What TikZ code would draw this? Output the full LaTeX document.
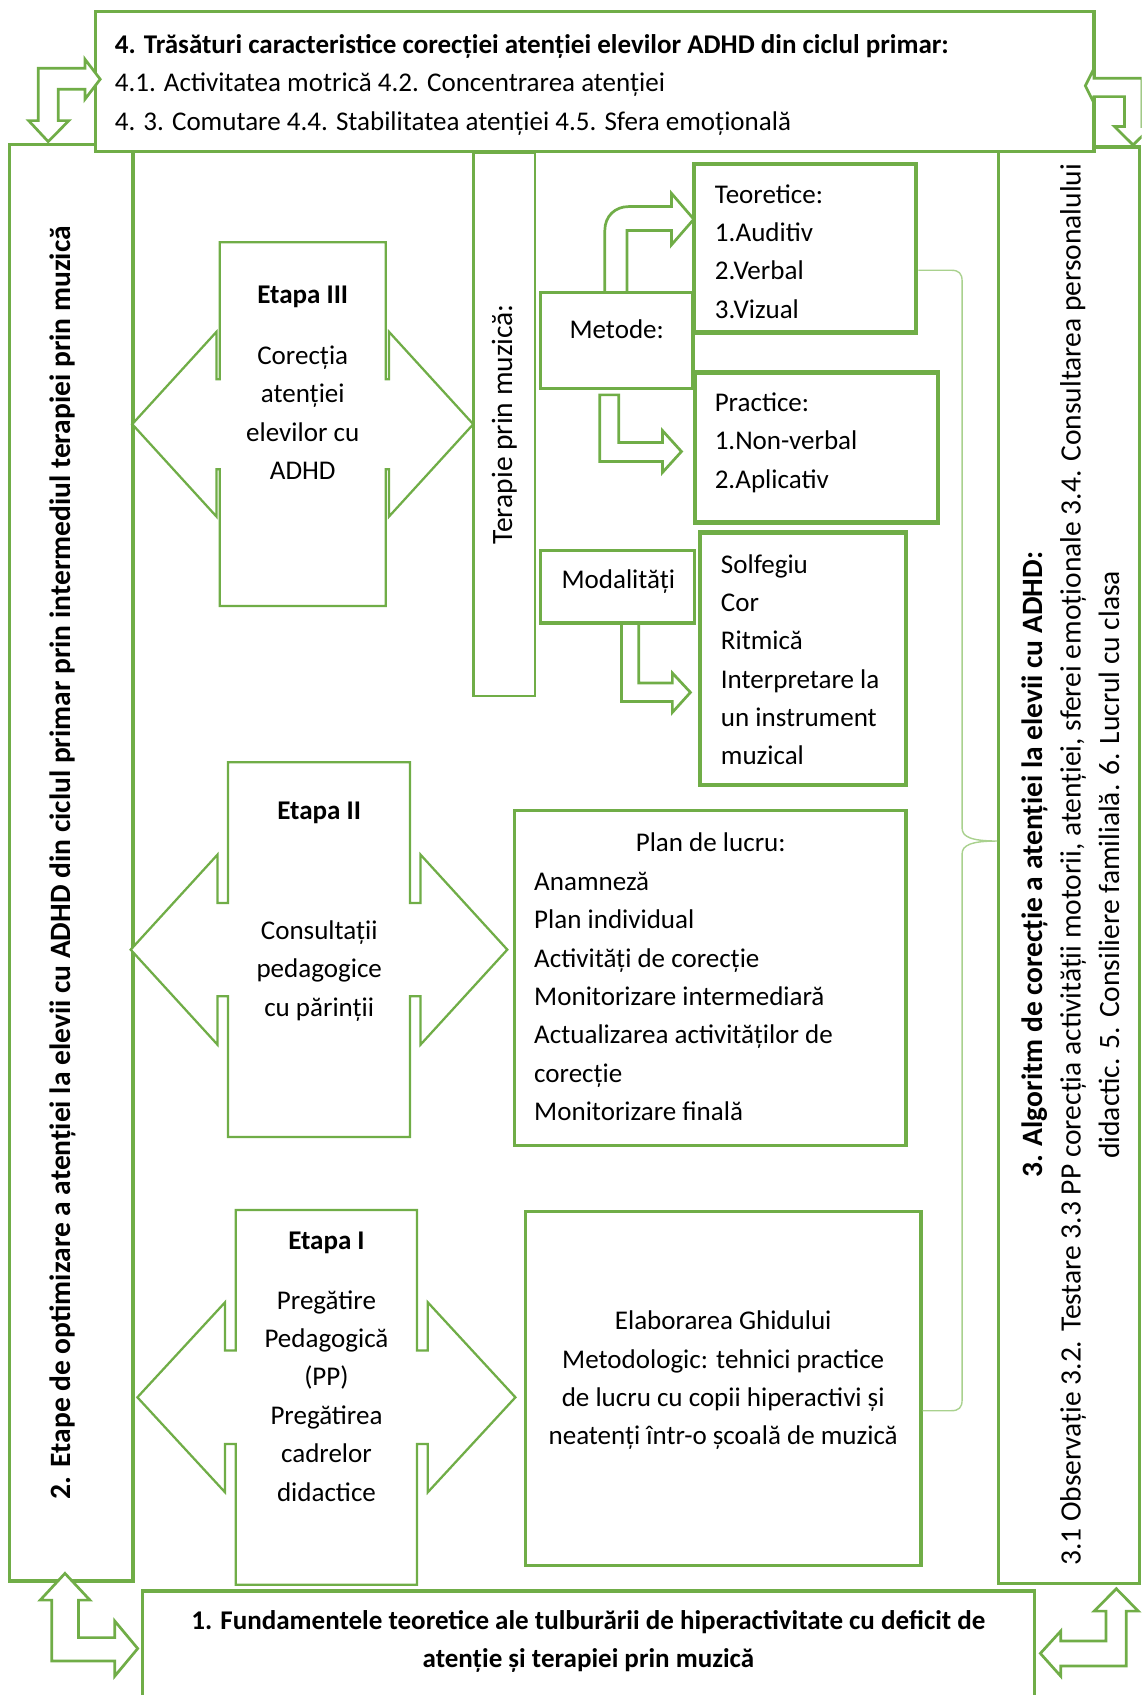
\documentclass[tikz,border=0pt]{standalone}
\usepackage{fontspec}
\setmainfont{Carlito}
\usetikzlibrary{calc}

\definecolor{algreen}{RGB}{112,173,71}
\definecolor{lightgreen}{RGB}{169,209,142}

\newcommand{\bodyfont}{\fontsize{25}{35.5}\selectfont}
\newcommand{\rotfont}{\fontsize{27.3}{35.5}\selectfont}

% outline of a stage box with a block arrow to each side
\newcommand{\etapaoutline}[5]{%
  \draw[etapaline] (#1.north west) -- (#1.north east)
    -- ($(#1.east)+(0,-#4)$) -- ++(#2,0) -- ($(#1.east)+(#2,-#5)$)
    -- ($(#1.east)+(#3,0)$) -- ($(#1.east)+(#2,#5)$) -- ($(#1.east)+(#2,#4)$)
    -- ($(#1.east)+(0,#4)$) -- (#1.south east) -- (#1.south west)
    -- ($(#1.west)+(0,#4)$) -- ++(-#2,0) -- ($(#1.west)+(-#2,#5)$)
    -- ($(#1.west)+(-#3,0)$) -- ($(#1.west)+(-#2,-#5)$) -- ($(#1.west)+(-#2,-#4)$)
    -- ($(#1.west)+(0,-#4)$) -- cycle;}

\begin{document}
\begin{tikzpicture}[x=1pt, y=-1pt]
    \tikzstyle{every node}=[font=\bodyfont, inner sep=0pt]
    \tikzstyle{box}=[rectangle, draw=algreen, line width=3pt, fill=white]
    \tikzstyle{thick box}=[box, line width=3.8pt]
    \tikzstyle{thin box}=[box, line width=2.2pt]
    \tikzstyle{etapaline}=[draw=algreen, line width=2.1pt, fill=white]
    \tikzstyle{block arrow}=[draw=algreen, line width=2.5pt, fill=white]
    \tikzstyle{brace line}=[draw=lightgreen, line width=1.3pt]
    \tikzstyle{lines}=[align=left, execute at begin node=\strut, execute at end node=\strut]
    \tikzstyle{clines}=[lines, align=center]
    \tikzstyle{bold}=[font=\bodyfont\bfseries]

    \useasboundingbox (0,0) rectangle (1056,1568);
    \clip (0,0) rectangle (1056,1568);

    % outer frame
    \node[box, minimum width=114, minimum height=1328.5] (etape) at (66,798.25) {};
    \node[box, minimum width=130, minimum height=1329] (algo) at (989,800.5) {};
    \node[box, minimum width=923.5, minimum height=129.5] (trasaturi) at (550.25,75.5) {};
    \node[box, anchor=north, minimum width=825.3, minimum height=130] (fundamente) at (544.35,1470.3) {};

    % bent arrows in the corners
    \draw[block arrow] (92.7,73.3) -- (78.6,91.8) -- (78.6,82.6) -- (53.8,82.6) -- (53.8,111.6) -- (63.7,111.6) -- (44.6,131) -- (26.5,111.6) -- (35.4,111.6) -- (35.4,63.2) -- (78.6,63.2) -- (78.6,54.8) -- cycle;
    \draw[block arrow] (1004,79.4) -- (1012.1,63.2) -- (1012.1,72.4) -- (1056.5,72.4) -- (1056.5,117.1) -- (1065.4,117.1) -- (1048.2,134.1) -- (1031,117.1) -- (1040.3,117.1) -- (1040.3,89.4) -- (1012.1,89.4) -- (1012.1,95.5) -- cycle;
    \draw[block arrow] (60.1,1455.5) -- (83.2,1480.2) -- (72.6,1480.2) -- (72.6,1514.9) -- (106.2,1514.9) -- (106.2,1499.6) -- (127.4,1525) -- (106.2,1550.5) -- (106.2,1536.6) -- (47.8,1536.6) -- (47.8,1480.2) -- (37.2,1480.2) -- cycle;
    \draw[block arrow] (1032.7,1469.7) -- (1053,1490.4) -- (1041.9,1490.4) -- (1041.9,1541.2) -- (981.2,1541.2) -- (981.2,1550.5) -- (962.4,1529.5) -- (981.2,1508.9) -- (981.2,1518.1) -- (1023.1,1518.1) -- (1023.1,1490.4) -- (1012.1,1490.4) -- cycle;

    % arrows out of Metode and Modalitati
    \draw[block arrow] (559.5,270.6) -- (559.5,213.1) .. controls (559.5,200) and (569,191.1) .. (581.5,191.1) -- (621.1,191.1) -- (621.1,178.8) -- (641.8,202.8) -- (621.1,226.6) -- (621.1,213.3) -- (580.1,213.3) -- (580.1,270.6) -- cycle;
    \draw[block arrow] (554.8,365.3) -- (572.4,365.3) -- (572.4,409.4) -- (612.8,409.4) -- (612.8,398.3) -- (630.4,417.7) -- (612.8,437.1) -- (612.8,426.9) -- (554.8,426.9) -- cycle;
    \draw[block arrow] (574.9,570.3) -- (590.9,570.3) -- (590.9,631.9) -- (622,631.9) -- (622,622.6) -- (638.7,640.5) -- (622,659) -- (622,648.9) -- (574.9,648.9) -- cycle;

    % inner boxes
    \node[thin box, rotate=90, minimum width=503, minimum height=57, font=\rotfont] (terapie) at (466.5,392.5) {Terapie prin muzică:};
    \node[box, minimum width=141.1, minimum height=88.5] (metode) at (570.55,314.85) {};
    \node[thick box, minimum width=205.9, minimum height=155.9] (teoretice) at (744.75,229.65) {};
    \node[thick box, minimum width=225.3, minimum height=138.7] (practice) at (755.35,413.95) {};
    \node[box, minimum width=142.7, minimum height=67.2] (modalitati) at (571.35,542.8) {};
    \node[thick box, minimum width=190.5, minimum height=233.3] (solfegiu) at (743.15,609.25) {};
    \node[box, minimum width=362.4, minimum height=310.4] (plan) at (656.8,904.8) {};
    \node[box, minimum width=365.6, minimum height=327.6] (ghid) at (669.1,1284.3) {};

    % the three stages
    \node[minimum width=153.1, minimum height=336] (e3) at (280.05,392.4) {};
    \node[minimum width=168, minimum height=346.4] (e2) at (295.1,878.5) {};
    \node[minimum width=167.3, minimum height=346.2] (e1) at (301.95,1292.6) {};
    \etapaoutline{e3}{3}{81}{41.6}{85.5}
    \etapaoutline{e2}{9.7}{90}{43.1}{87.9}
    \etapaoutline{e1}{9.9}{91}{43.2}{87.9}

    % brace towards the algorithm
    \draw[brace line] ($(teoretice.east)+(0,20.35)$) -- (880,250) .. controls (887,250) and (890,253) .. (890,260)
      -- (890,766) .. controls (890,774) and (898,778) .. ($(algo.west)+(0,-22.5)$)
      .. controls (898,778) and (890,782) .. (890,790) -- (890,1295)
      .. controls (890,1302) and (887,1305) .. (880,1305) -- ($(ghid.east)+(0,20.7)$);

    % texts
    \node[lines, anchor=north west] (trasaturitxt) at (106,31.65) {\textbf{4. Trăsături caracteristice corecției atenției elevilor ADHD din ciclul primar:}\\4.1. Activitatea motrică 4.2. Concentrarea atenției\\4. 3. Comutare 4.4. Stabilitatea atenției 4.5. Sfera emoțională};
    \node[rotate=90, font=\rotfont\bfseries] (etapetxt) at (58,798) {2. Etape de optimizare a atenției la elevii cu ADHD din ciclul primar prin intermediul terapiei prin muzică};
    \node[clines, rotate=90, font=\rotfont] (algotxt) at (995.5,800) {\textbf{3. Algoritm de corecție a atenției la elevii cu ADHD:}\\3.1 Observație 3.2. Testare 3.3 PP corecția activității motorii, atenției, sferei emoționale 3.4. Consultarea personalului\\didactic. 5. Consiliere familială. 6. Lucrul cu clasa};
    \node[clines, bold, anchor=north] (fundamentetxt) at (544.35,1489.65) {1. Fundamentele teoretice ale tulburării de hiperactivitate cu deficit de\\atenție și terapiei prin muzică};

    \node[clines, anchor=north] (e3txt) at (280.05,264.65) {\textbf{Etapa III}\\[20.5pt]Corecția\\atenției\\elevilor cu\\ADHD};
    \node[clines, anchor=north] (e2txt) at (295.3,741.65) {\textbf{Etapa II}\\[75.5pt]Consultații\\pedagogice\\cu părinții};
    \node[clines, anchor=north] (e1txt) at (302,1139.65) {\textbf{Etapa I}\\[19.5pt]Pregătire\\Pedagogică\\(PP)\\Pregătirea\\cadrelor\\didactice};

    \node (metodetxt) at (570.5,305) {Metode:};
    \node[lines, anchor=north west] (teoreticetxt) at (661.2,170.45) {Teoretice:\\1.Auditiv\\2.Verbal\\3.Vizual};
    \node[lines, anchor=north west] (practicetxt) at (661,363.05) {Practice:\\1.Non-verbal\\2.Aplicativ};
    \node (modalitatitxt) at (572,537.9) {Modalități};
    \node[lines, anchor=north west] (solfegiutxt) at (666.7,512.55) {Solfegiu\\Cor\\Ritmică\\Interpretare la\\un instrument\\muzical};
    \node (plantitle) at (657.5,779) {Plan de lucru:};
    \node[lines, anchor=north west] (plantxt) at (494,806.65) {Anamneză\\Plan individual\\Activități de corecție\\Monitorizare intermediară\\Actualizarea activităților de\\corecție\\Monitorizare finală};
    \node[clines, anchor=north] (ghidtxt) at (669,1212.65) {Elaborarea Ghidului\\Metodologic: tehnici practice\\de lucru cu copii hiperactivi și\\neatenți într-o școală de muzică};
\end{tikzpicture}
\end{document}
